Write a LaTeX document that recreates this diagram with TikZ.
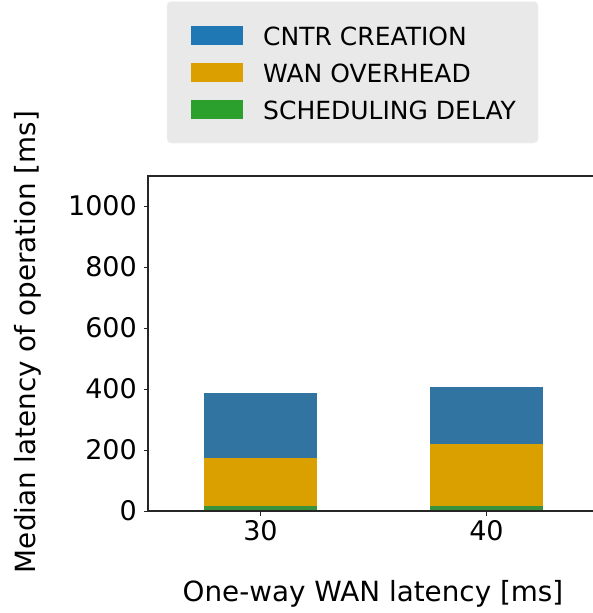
\documentclass[tikz,border=0pt]{standalone}
\usepackage{fontspec}
\setmainfont{DejaVu Sans}
\begin{document}
\begin{tikzpicture}[x=1pt,y=-1pt,
  ticklab/.style={font=\fontsize{27}{27}\selectfont, inner sep=0pt},
  axlab/.style={font=\fontsize{27.8}{27.8}\selectfont, inner sep=0pt},
  leglab/.style={font=\fontsize{25}{25}\selectfont, inner sep=0pt, anchor=base west},
  spine/.style={line width=1.2pt, draw=black!85},
  tickmark/.style={line width=1pt, draw=black!85}]
\definecolor{cntrleg}{HTML}{1F77B4}
\definecolor{wanleg}{HTML}{DBA000}
\definecolor{schedleg}{HTML}{2CA02C}
\definecolor{cntrbar}{HTML}{3274A1}
\definecolor{wanbar}{HTML}{DAA000}
\definecolor{schedbar}{HTML}{3A923A}
\definecolor{legbg}{HTML}{E9E9E9}
\useasboundingbox (0,0) rectangle (593,613);
\fill[white] (0,0) rectangle (593,613);

% value -> vertical position: 0 at 511, 1000 at 206
\def\yz{511}\def\ys{0.305}

% stacked bars
\foreach \xl/\xr/\g/\o/\b [count=\i] in {204/317/16.4/173.8/386.9, 430/543/16.4/219.7/406.6}{
  \fill[schedbar] (\xl,\yz) rectangle (\xr,{\yz-\ys*\g});
  \fill[wanbar] (\xl,{\yz-\ys*\g}) rectangle (\xr,{\yz-\ys*\o});
  \fill[cntrbar] (\xl,{\yz-\ys*\o}) rectangle (\xr,{\yz-\ys*\b});
}

% axes
\coordinate (o) at (148,511);
\coordinate (tl) at (148,176);
\coordinate (br) at (593,511);
\coordinate (tr) at (593,176);
\draw[spine] (tr) -- (tl) -- (o) -- (br);

% y ticks
\foreach \v in {0,200,400,600,800,1000}{
  \draw[tickmark] (143.5,{\yz-\ys*\v}) -- (148,{\yz-\ys*\v});
  \node[ticklab, anchor=east] (yt\v) at (137,{\yz-\ys*\v}) {\v};
}
% x ticks
\foreach \xv/\lab in {260.5/30, 486.5/40}{
  \draw[tickmark] (\xv,511) -- (\xv,516);
  \node[ticklab, anchor=north] (xt\lab) at (\xv,520.5) {\lab};
}

% axis labels
\node[axlab, anchor=base] (xlab) at (373,601.5) {One-way WAN latency [ms]};
\node[axlab, anchor=base, rotate=90] (ylab) at (35,342) {Median latency of operation [ms]};

% legend
\fill[legbg, draw=black!5, rounded corners=4pt] (167,1.5) rectangle (538,143);
\fill[cntrleg] (191,26) rectangle (243,45);
\fill[wanleg] (191,63) rectangle (243,82);
\fill[schedleg] (191,100) rectangle (243,119);
\node[leglab] (l1) at (263,45) {CNTR CREATION};
\node[leglab] (l2) at (263,82) {WAN OVERHEAD};
\node[leglab] (l3) at (263,119) {SCHEDULING DELAY};
\end{tikzpicture}
\end{document}
